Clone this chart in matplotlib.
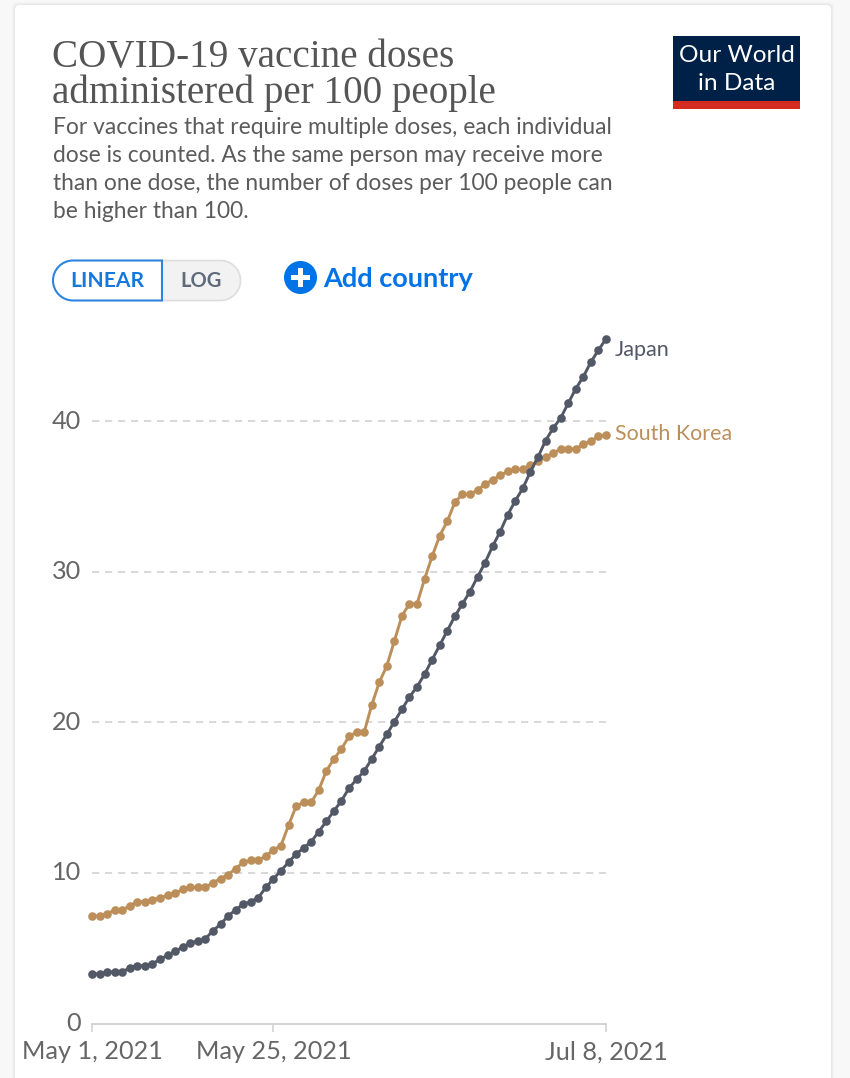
import matplotlib
matplotlib.use("Agg")
import matplotlib.pyplot as plt
import matplotlib.dates as mdates
from matplotlib.patches import Rectangle, Circle, PathPatch, FancyBboxPatch
from matplotlib.path import Path
from matplotlib.transforms import ScaledTranslation
import pandas as pd

dates = pd.date_range("2021-05-01", "2021-07-08", freq="D")
japan = [3.29, 3.29, 3.42, 3.42, 3.42, 3.71, 3.84, 3.84, 3.97, 4.26, 4.53, 4.79,
         5.08, 5.35, 5.48, 5.63, 6.16, 6.59, 7.14, 7.54, 7.93, 8.09, 8.35, 9.04,
         9.60, 10.15, 10.70, 11.26, 11.65, 12.07, 12.74, 13.42, 14.11, 14.79, 15.62, 16.21,
         16.75, 17.56, 18.38, 19.20, 20.04, 20.86, 21.68, 22.36, 23.19, 24.16, 25.11, 26.08,
         27.04, 27.86, 28.67, 29.65, 30.60, 31.69, 32.66, 33.78, 34.71, 35.54, 36.64, 37.60,
         38.70, 39.52, 40.21, 41.18, 42.15, 42.95, 43.92, 44.72, 45.45]
south_korea = [7.14, 7.14, 7.29, 7.54, 7.54, 7.82, 8.09, 8.09, 8.22, 8.35, 8.51, 8.64,
               8.91, 9.04, 9.04, 9.04, 9.35, 9.62, 9.88, 10.28, 10.70, 10.84, 10.84, 11.12,
               11.52, 11.81, 13.16, 14.42, 14.69, 14.69, 15.50, 16.77, 17.56, 18.23, 19.07, 19.34,
               19.33, 21.13, 22.65, 23.74, 25.40, 27.06, 27.88, 27.86, 29.52, 31.02, 32.39, 33.34,
               34.61, 35.14, 35.14, 35.42, 35.82, 36.09, 36.40, 36.67, 36.80, 36.80, 37.08, 37.35,
               37.62, 37.86, 38.15, 38.15, 38.15, 38.46, 38.68, 38.99, 39.05]
y_ticks = [0, 10, 20, 30, 40]
x_tick_dates = ["2021-05-01", "2021-05-25", "2021-07-08"]
x_tick_labels = ["May 1, 2021", "May 25, 2021", "Jul 8, 2021"]
title_lines = ["COVID-19 vaccine doses", "administered per 100 people"]
subtitle_lines = ["For vaccines that require multiple doses, each individual",
                  "dose is counted. As the same person may receive more",
                  "than one dose, the number of doses per 100 people can",
                  "be higher than 100."]

W, H = 850, 1078
LATO = "Lato"
GREY = "#5b5b5b"
JP = "#525866"
KR = "#BC8F5A"
BLUE = "#0073E6"

fig = plt.figure(figsize=(W / 100, H / 100), dpi=100, facecolor="#F8F8F8")

# Page furniture in pixel coordinates
bg = fig.add_axes([0, 0, 1, 1], zorder=0)
bg.set_xlim(0, W); bg.set_ylim(H, 0); bg.axis("off")
for grow, col in [(3, "#F3F3F3"), (2, "#EEEEEE"), (1, "#E8E8E8")]:
    bg.add_patch(FancyBboxPatch((15 - grow, 5 - grow), 816 + 2 * grow, 1110,
                                boxstyle="round,pad=0,rounding_size=6", fc=col, ec="none"))
bg.add_patch(FancyBboxPatch((15, 5), 816, 1110, boxstyle="round,pad=0,rounding_size=5",
                            fc="white", ec="none"))

for txt, y in zip(title_lines, [58, 93]):
    bg.text(52, y, txt, family="Liberation Serif", fontsize=28.2, color="#555555",
            va="center", ha="left")
for txt, y in zip(subtitle_lines, [128, 156, 184, 212]):
    bg.text(53, y, txt, family=LATO, fontsize=16.4, color=GREY, va="center", ha="left")

# Logo
bg.add_patch(Rectangle((673, 36), 127, 65, fc="#002147", ec="none"))
bg.add_patch(Rectangle((673, 101), 127, 7.5, fc="#D42B21", ec="none"))
bg.text(736.5, 56, "Our World", family=LATO, fontsize=17.6, color="white", ha="center", va="center")
bg.text(736.5, 84, "in Data", family=LATO, fontsize=17.6, color="white", ha="center", va="center")

# Linear / log toggle
def pill(x0, x1, y0, y1, left_round, right_round):
    r = (y1 - y0) / 2
    k = 0.5523 * r
    v = []; c = []
    if left_round:
        v += [(x0 + r, y0)]; c += [Path.MOVETO]
    else:
        v += [(x0, y0)]; c += [Path.MOVETO]
    if right_round:
        v += [(x1 - r, y0), (x1 - r + k, y0), (x1, y0 + r - k), (x1, y0 + r),
              (x1, y0 + r + k), (x1 - r + k, y1), (x1 - r, y1)]
        c += [Path.LINETO] + [Path.CURVE4] * 6
    else:
        v += [(x1, y0), (x1, y1)]; c += [Path.LINETO, Path.LINETO]
    if left_round:
        v += [(x0 + r, y1), (x0 + r - k, y1), (x0, y0 + r + k), (x0, y0 + r),
              (x0, y0 + r - k), (x0 + r - k, y0), (x0 + r, y0)]
        c += [Path.LINETO] + [Path.CURVE4] * 6
    else:
        v += [(x0, y1), (x0, y0)]; c += [Path.LINETO, Path.LINETO]
    return Path(v, c)

bg.add_patch(PathPatch(pill(160, 240.5, 260.5, 300.5, False, True), fc="#F2F2F2", ec="#DDDDDD", lw=1.2))
bg.add_patch(PathPatch(pill(53, 162, 260.5, 300.5, True, False), fc="white", ec="#2C86E0", lw=1.5))
bg.text(107.5, 281, "LINEAR", family=LATO, fontsize=15.1, fontweight="bold", color="#1478DC",
        ha="center", va="center")
bg.text(201.5, 281, "LOG", family=LATO, fontsize=14.5, fontweight="bold", color="#5F6B7A",
        ha="center", va="center")

# Add country
bg.add_patch(Circle((300.5, 277.5), 16.5, fc=BLUE, ec="none"))
bg.add_patch(Rectangle((291, 275), 19, 5, fc="white", ec="none"))
bg.add_patch(Rectangle((298, 268), 5, 19, fc="white", ec="none"))
bg.text(323.5, 279, "Add country", family=LATO, fontsize=19.5, fontweight="bold", color=BLUE,
        ha="left", va="center")

# Chart
px_left, px_right, px_top, px_bottom = 92, 606, 330, 1023.5
ax = fig.add_axes([px_left / W, 1 - px_bottom / H, (px_right - px_left) / W, (px_bottom - px_top) / H],
                  zorder=2)
ax.patch.set_alpha(0)
ax.set_xlim(dates[0], dates[-1])
ax.set_ylim(0, (px_bottom - px_top) / 15.06)

for t in y_ticks[1:]:
    ax.axhline(t, color="#D6D6D6", lw=1.3, dashes=(4, 3.2), zorder=1)

ax.plot(dates, south_korea, color=KR, lw=2.1, marker="o", ms=6.2, mew=0, clip_on=False, zorder=3)
ax.plot(dates, japan, color=JP, lw=2.1, marker="o", ms=6.2, mew=0, clip_on=False, zorder=4)

for s in ["top", "right", "left"]:
    ax.spines[s].set_visible(False)
ax.spines["bottom"].set_color("#CFCFCF")
ax.spines["bottom"].set_linewidth(1.3)

ax.set_yticks(y_ticks)
ax.set_yticklabels([str(t) for t in y_ticks], family=LATO, fontsize=18.2, color="#666666")
ax.tick_params(axis="y", length=0, pad=8)
for lab in ax.get_yticklabels():
    lab.set_transform(lab.get_transform() + ScaledTranslation(0, 2 / 100, fig.dpi_scale_trans))

ax.set_xticks([mdates.date2num(pd.Timestamp(d)) for d in x_tick_dates])
ax.set_xticklabels(x_tick_labels, family=LATO, fontsize=18.2, color="#666666")
ax.tick_params(axis="x", length=5.5, width=1.1, color="#CFCFCF", pad=6.5)

ax.annotate("Japan", (dates[-1], japan[-1]), xytext=(6.3, -8.2), textcoords="offset points",
            family=LATO, fontsize=15.6, color=JP, va="center", ha="left", annotation_clip=False)
ax.annotate("South Korea", (dates[-1], south_korea[-1]), xytext=(6.3, 1), textcoords="offset points",
            family=LATO, fontsize=15.4, color=KR, va="center", ha="left", annotation_clip=False)

fig.savefig("out.png", dpi=100, facecolor=fig.get_facecolor())
